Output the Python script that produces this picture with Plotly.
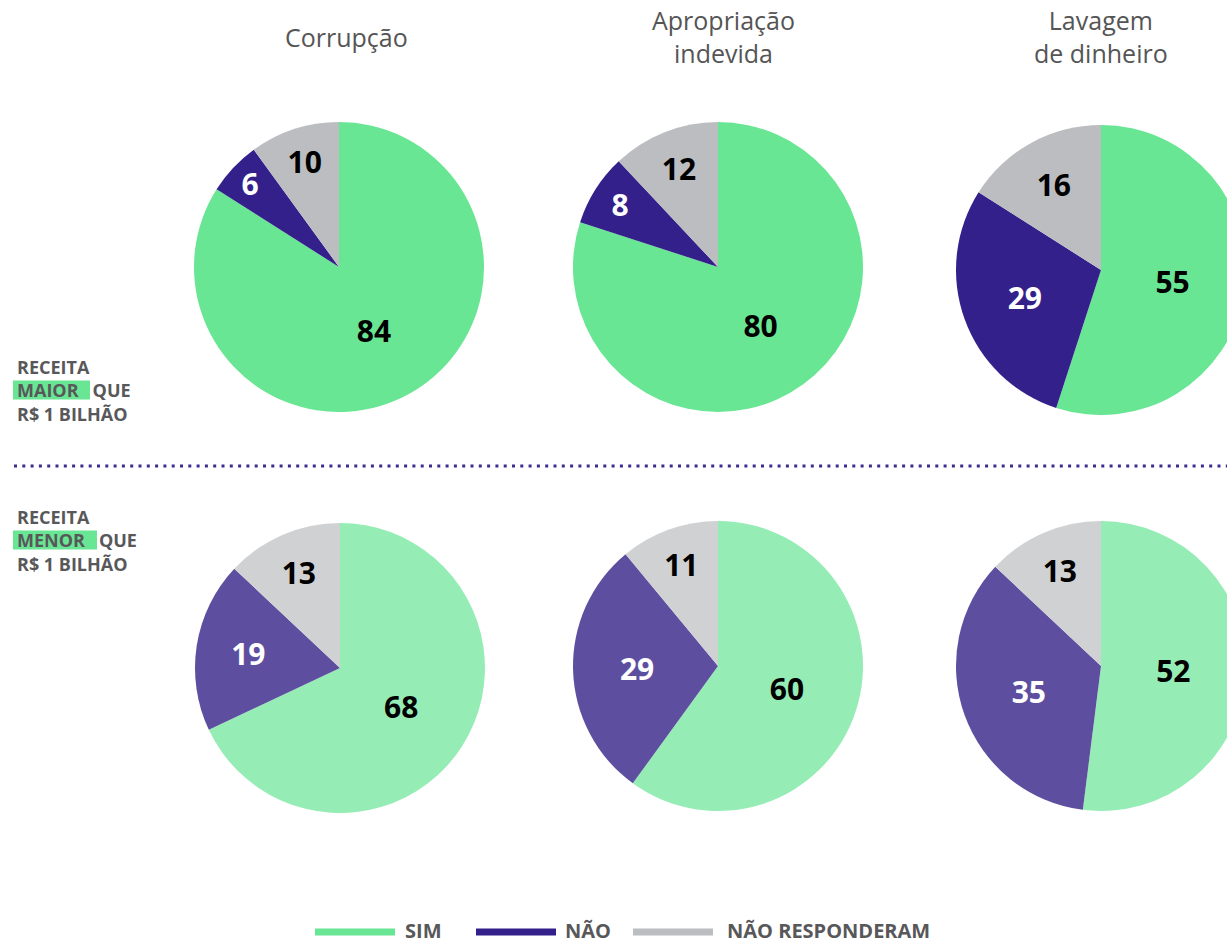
import plotly.graph_objects as go

# survey results (%), per crime type
crimes = ["Corrupção", "Apropriação<br>indevida", "Lavagem<br>de dinheiro"]
answers = ["Sim", "Não", "Não responderam"]
maior = [[84, 6, 10], [80, 8, 12], [55, 29, 16]]   # receita maior que R$ 1 bilhão
menor = [[68, 19, 13], [60, 29, 11], [52, 35, 13]]  # receita menor que R$ 1 bilhão
legend_labels = ["SIM", "NÃO", "NÃO RESPONDERAM"]

cores_maior = ["#68E694", "#33208A", "#BCBDC1"]
cores_menor = ["#95EDB5", "#5D4EA0", "#D0D1D3"]
cor_texto = ["#000000", "#FFFFFF", "#000000"]

W, H = 1250, 944
R = 145
FONT = "Open Sans"
GRAY = "#58585A"
NB = "\u00a0"


def px(x):
    return x / W


def py(y):
    return 1 - y / H


def dom(cx, cy):
    return dict(x=[px(cx - R), px(cx + R)], y=[py(cy + R), py(cy - R)])


centros_maior = [(339, 267), (718, 267), (1101, 270)]
centros_menor = [(340, 668), (718, 666), (1101, 666)]

fig = go.Figure()

for vals, centros, cores in [(maior, centros_maior, cores_maior), (menor, centros_menor, cores_menor)]:
    for v, (cx, cy) in zip(vals, centros):
        fig.add_trace(go.Pie(
            labels=answers, values=v, sort=False, direction="clockwise", rotation=0,
            marker=dict(colors=cores, line=dict(width=0)),
            textinfo="value", textposition="inside", insidetextorientation="horizontal",
            insidetextfont=dict(family=FONT, size=30, color=cor_texto, weight="bold"),
            hoverinfo="skip", showlegend=False, domain=dom(cx, cy),
        ))

ann = []
# column titles
for t, x in zip(crimes, [346, 723, 1101]):
    ann.append(dict(text=t, x=px(x), y=py(37), xanchor="center", yanchor="middle",
                    font=dict(family=FONT, size=25, color="#555555")))

shapes = []
# row labels, with the green highlight behind MAIOR / MENOR
for word, ymid, hl_right, gap in [("MAIOR", 390, 90, 3), ("MENOR", 540, 97, 3)]:
    shapes.append(dict(type="rect", xref="paper", yref="paper", x0=px(13), x1=px(hl_right),
                       y0=py(ymid + 9.5), y1=py(ymid - 9.5), fillcolor="#68E694", line=dict(width=0),
                       layer="below"))
    txt = "RECEITA<br>" + word + NB * gap + "QUE<br>R$ 1 BILHÃO"
    ann.append(dict(text=txt, x=px(15), y=py(ymid), xanchor="left", yanchor="middle", align="left",
                    font=dict(family=FONT, size=18, color=GRAY, weight="bold")))

# dotted separator
shapes.append(dict(type="line", xref="paper", yref="paper", x0=px(14), x1=1, y0=py(466), y1=py(466),
                   line=dict(color="#3A2D8F", width=3, dash="3px,5.3px")))

# custom legend
for lab, cor, (x0, xt) in zip(legend_labels, cores_maior, [(315, 403), (476, 563), (633, 725)]):
    shapes.append(dict(type="line", xref="paper", yref="paper", x0=px(x0), x1=px(x0 + 80),
                       y0=py(932), y1=py(932), line=dict(color=cor, width=7)))
    ann.append(dict(text=lab, x=px(xt), y=py(930), xanchor="left", yanchor="middle",
                    font=dict(family=FONT, size=20, color=GRAY, weight="bold")))

for a in ann:
    a.update(xref="paper", yref="paper", showarrow=False)

fig.update_layout(
    width=W, height=H, margin=dict(l=0, r=0, t=0, b=0),
    paper_bgcolor="white", plot_bgcolor="white",
    annotations=ann, shapes=shapes, showlegend=False,
)

fig.write_html("out.html", config={"displayModeBar": False},
               post_script="document.body.style.margin='0';document.body.style.overflow='hidden';")
